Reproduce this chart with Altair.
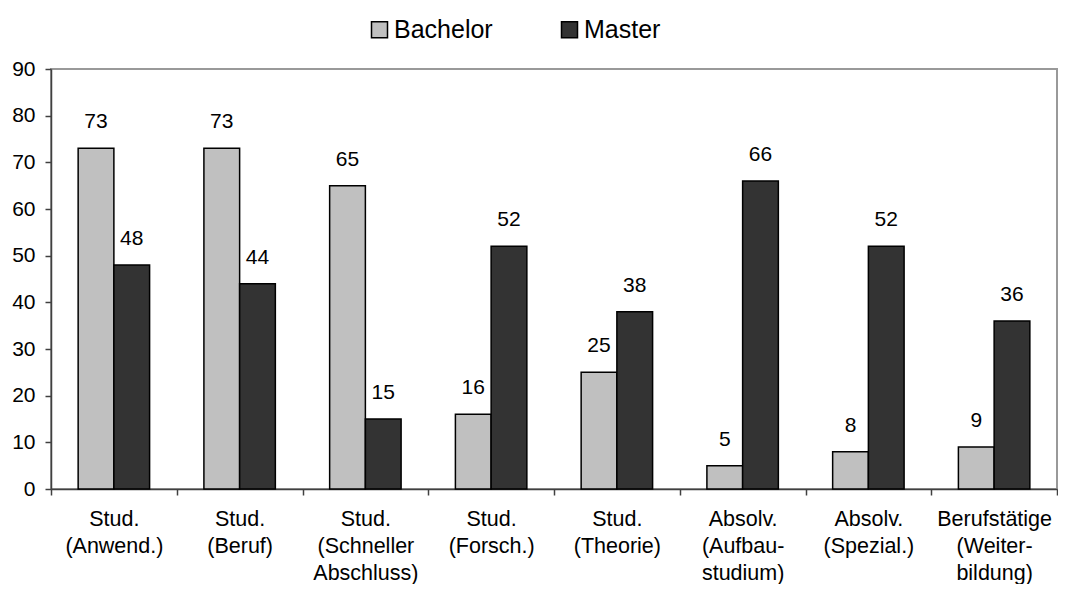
import altair as alt
import pandas as pd

categories = [
    "Stud.\n(Anwend.)",
    "Stud.\n(Beruf)",
    "Stud.\n(Schneller\nAbschluss)",
    "Stud.\n(Forsch.)",
    "Stud.\n(Theorie)",
    "Absolv.\n(Aufbau-\nstudium)",
    "Absolv.\n(Spezial.)",
    "Berufstätige\n(Weiter-\nbildung)",
]
series = ["Bachelor", "Master"]
bachelor = [73, 73, 65, 16, 25, 5, 8, 9]
master = [48, 44, 15, 52, 38, 66, 52, 36]
colors = ["#c0c0c0", "#333333"]
y_ticks = [0, 10, 20, 30, 40, 50, 60, 70, 80, 90]

rows = []
for c, b, m in zip(categories, bachelor, master):
    rows.append({"cat": c, "series": "Bachelor", "value": b})
    rows.append({"cat": c, "series": "Master", "value": m})
df = pd.DataFrame(rows)

FONT = "Arial, Liberation Sans, sans-serif"

base = alt.Chart(df).encode(
    x=alt.X(
        "cat:N",
        sort=categories,
        scale=alt.Scale(paddingInner=0, paddingOuter=0),
        axis=alt.Axis(
            title=None,
            labelAngle=0,
            labelExpr="split(datum.label, '\\n')",
            tickBand="extent",
            tickSize=6,
            labelPadding=13,
            labelLineHeight=27,
            labelBaseline="top",
            labelFontSize=21.5,
        ),
    ),
    xOffset=alt.XOffset(
        "series:N", sort=series, scale=alt.Scale(paddingInner=0, paddingOuter=0.76)
    ),
    y=alt.Y(
        "value:Q",
        scale=alt.Scale(domain=[0, 90], nice=False),
        axis=alt.Axis(
            title=None, values=y_ticks, grid=False, tickSize=6, labelPadding=10
        ),
    ),
)

bars = base.mark_bar(stroke="black", strokeWidth=1.5).encode(
    color=alt.Color(
        "series:N",
        sort=series,
        scale=alt.Scale(domain=series, range=colors),
        legend=alt.Legend(
            title=None,
            orient="none",
            direction="horizontal",
            legendX=316,
            legendY=-52,
            symbolType="square",
            symbolSize=256,
            symbolStrokeColor="black",
            symbolStrokeWidth=1.5,
            symbolOpacity=1,
            labelFontSize=25,
            labelFont=FONT,
            labelColor="black",
            labelOffset=2,
            columnPadding=64,
            padding=0,
        ),
    )
)

labels = base.mark_text(
    baseline="alphabetic", dy=-20, fontSize=21, font=FONT, color="black"
).encode(text="value:Q")

chart = (
    (bars + labels)
    .properties(
        width=1006,
        height=420,
        padding={"left": 43, "top": 61, "right": 1, "bottom": 95},
        autosize=alt.AutoSizeParams(type="none"),
    )
    .configure_view(stroke="#999999", strokeWidth=2)
    .configure_axis(
        labelFont=FONT,
        labelFontSize=21,
        labelColor="black",
        domainColor="#404040",
        domainWidth=1.5,
        tickColor="#404040",
        tickWidth=1.5,
    )
)

chart.save("out.html", embed_options={"renderer": "svg", "actions": False})
